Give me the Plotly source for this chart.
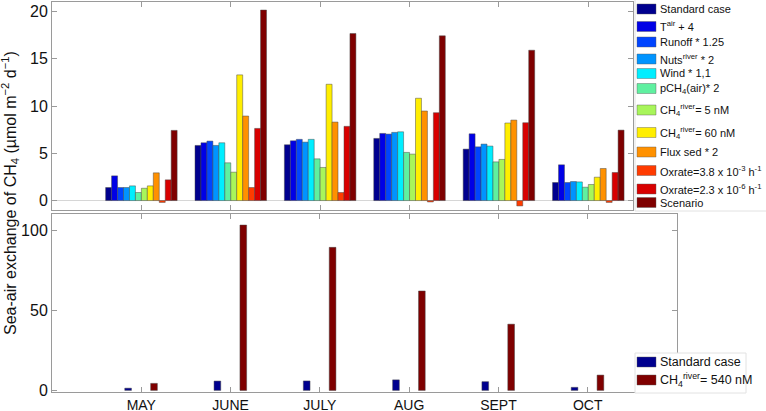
import plotly.graph_objects as go

months = ["MAY", "JUNE", "JULY", "AUG", "SEPT", "OCT"]
xpos = [1, 2, 3, 4, 5, 6]

# top panel: one list per sensitivity run (µmol m-2 d-1)
standard = [1.38, 5.83, 5.90, 6.57, 5.44, 1.91]
t_air = [2.61, 6.11, 6.32, 7.10, 7.06, 3.78]
runoff = [1.38, 6.29, 6.47, 7.03, 5.68, 1.91]
nuts_river = [1.38, 5.83, 6.18, 7.21, 5.97, 2.01]
wind = [1.55, 6.11, 6.47, 7.27, 5.76, 1.97]
pch4_air = [0.85, 3.99, 4.41, 5.09, 4.09, 1.41]
ch4_river_5 = [1.30, 3.00, 3.50, 4.91, 4.35, 1.70]
ch4_river_60 = [1.55, 13.29, 12.30, 10.82, 8.20, 2.47]
flux_sed = [2.93, 8.94, 8.30, 9.47, 8.51, 3.39]
oxrate_hi = [-0.20, 1.38, 0.85, -0.15, -0.57, -0.20]
oxrate_lo = [2.19, 7.63, 7.85, 9.29, 8.23, 2.97]
scenario = [7.42, 20.15, 17.67, 17.42, 15.90, 7.45]

# bottom panel
ch4_river_540 = [4.36, 103.1, 89.2, 62.0, 41.3, 9.55]

top_names = [
    "Standard case",
    "T<sup>air</sup> + 4",
    "Runoff * 1.25",
    "Nuts<sup>river</sup> * 2",
    "Wind * 1,1",
    "pCH<sub>4</sub>(air)* 2",
    "CH<sub>4</sub><sup>river</sup>= 5 nM",
    "CH<sub>4</sub><sup>river</sup>= 60 nM",
    "Flux sed * 2",
    "Oxrate=3.8 x 10<sup>-3</sup> h<sup>-1</sup>",
    "Oxrate=2.3 x 10<sup>-6</sup> h<sup>-1</sup>",
    "Scenario",
]
bottom_names = ["Standard case", "CH<sub>4</sub><sup>river</sup>= 540 nM"]

top_values = [standard, t_air, runoff, nuts_river, wind, pch4_air,
              ch4_river_5, ch4_river_60, flux_sed, oxrate_hi, oxrate_lo, scenario]
jet = ["#00008f", "#0000e6", "#0044ff", "#0094ff", "#00eeff", "#5ff0a0",
       "#a8f55a", "#ffee00", "#ff9100", "#ff3b00", "#d80000", "#7f0000"]
bottom_colors = [jet[0], jet[-1]]

W, H = 766, 411
edge = dict(color="rgba(70,70,70,0.8)", width=0.6)
axcol = "#9a9a9a"
font = "Liberation Sans, Arial, sans-serif"

fig = go.Figure()

for name, vals, col in zip(top_names, top_values, jet):
    fig.add_trace(go.Bar(x=xpos, y=vals, name=name, marker_color=col,
                         marker_line=edge, xaxis="x", yaxis="y"))

fig.add_trace(go.Bar(x=xpos, y=standard, name=bottom_names[0], marker_color=bottom_colors[0],
                     marker_line=edge, width=0.075, offset=-0.185, xaxis="x2", yaxis="y2"))
fig.add_trace(go.Bar(x=xpos, y=ch4_river_540, name=bottom_names[1], marker_color=bottom_colors[1],
                     marker_line=edge, width=0.075, offset=0.105, xaxis="x2", yaxis="y2"))

axis_common = dict(showline=True, linecolor=axcol, linewidth=1, mirror="ticks",
                   ticks="inside", ticklen=5, tickcolor=axcol, showgrid=False,
                   automargin=False, tickfont=dict(size=16, color="#111"))

fig.update_layout(
    width=W, height=H,
    margin=dict(l=0, r=0, t=0, b=0, autoexpand=False),
    paper_bgcolor="white", plot_bgcolor="white",
    font=dict(family=font, color="#111"),
    barmode="group", bargap=0.2, bargroupgap=0,
    showlegend=False,
    xaxis=dict(axis_common, domain=[52 / W, 633 / W], range=[0, 6.5], anchor="y",
               tickvals=xpos, showticklabels=False, zeroline=False),
    yaxis=dict(axis_common, domain=[1 - 210 / H, 1 - 2 / H], range=[-1, 21], anchor="x",
               tickvals=[0, 5, 10, 15, 20], zeroline=True, zerolinecolor="#d6d6d6",
               zerolinewidth=1),
    xaxis2=dict(axis_common, domain=[52 / W, 677 / W], range=[0, 7], anchor="y2",
                tickvals=xpos, ticktext=months, zeroline=False,
                tickfont=dict(size=14, color="#111")),
    yaxis2=dict(axis_common, domain=[1 - 392 / H, 1 - 214 / H], range=[-1, 110],
                tickvals=[0, 50, 100], zeroline=False, anchor="x2"),
)


# MATLAB-style legend boxes (wide swatches, uneven row heights)
def legend_box(names, colors, rows_px, box, size):
    bx0, by0, bx1, by1 = box
    fig.add_shape(type="rect", xref="paper", yref="paper", layer="above",
                  x0=bx0 / W, x1=bx1 / W, y0=1 - by1 / H, y1=1 - by0 / H,
                  fillcolor="white", line=dict(color="#e2e2e2", width=1))
    for name, col, yc in zip(names, colors, rows_px):
        fig.add_shape(type="rect", xref="paper", yref="paper", layer="above",
                      x0=637 / W, x1=656 / W, y0=1 - (yc + 5) / H, y1=1 - (yc - 5) / H,
                      fillcolor=col, line=dict(color="rgba(90,90,90,0.7)", width=0.6))
        fig.add_annotation(text=name, xref="paper", yref="paper", x=658 / W, y=1 - yc / H,
                           xanchor="left", yanchor="middle", showarrow=False,
                           font=dict(size=size, color="#111"))


top_rows = [9, 26.5, 42, 59, 73.5, 88.5, 110, 132.5, 152, 170.5, 189, 202.5]
legend_box(top_names, jet, top_rows, (635, -2, 767, 211), 11)
legend_box(bottom_names, bottom_colors, [362, 380], (635, 353, 746, 393), 12.5)

fig.add_annotation(text="Sea-air exchange of CH<sub>4</sub> (µmol m<sup>−2</sup> d<sup>−1</sup>)",
                   xref="paper", yref="paper", x=10 / W, y=1 - 193 / H,
                   xanchor="center", yanchor="middle",
                   textangle=-90, showarrow=False, font=dict(size=16, color="#111"))

# the page body has a default 8px margin; remove it so the figure fills the window
fig.write_html("out.html", config={"displayModeBar": False},
               post_script="document.body.style.margin='0';document.body.style.overflow='hidden';")
